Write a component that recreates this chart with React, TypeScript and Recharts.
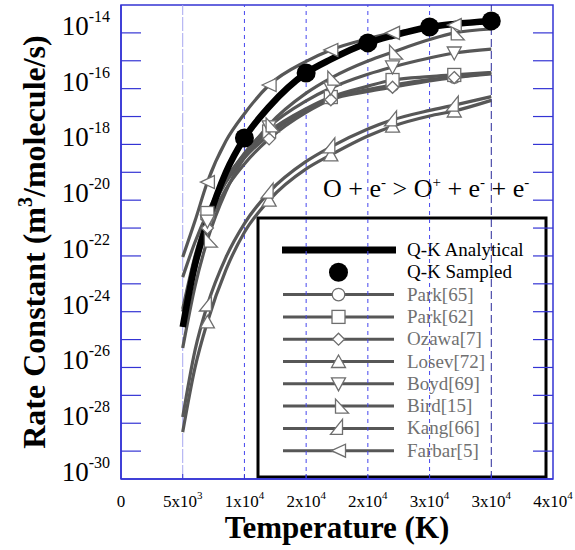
import React from 'react';
import {
  ComposedChart,
  Line,
  Scatter,
  XAxis,
  YAxis,
  ReferenceLine,
  ReferenceArea,
  Customized,
} from 'recharts';

// ---------- data ----------
const TEMPS = [5000, 6000, 7000, 8500, 10000, 12000, 15000, 17000, 20000, 22000, 25000, 27000, 30000];

const QK_ANALYTICAL = [2.82e-25, 5.0e-23, 1.58e-21, 1.0e-19, 1.7e-18, 2.24e-17, 3.63e-16, 1.12e-15, 4.37e-15, 7.9e-15, 1.62e-14, 2.09e-14, 2.69e-14];
const PARK65 = [1.26e-24, 1.0e-22, 2.5e-21, 4.4e-20, 3.3e-19, 2.2e-18, 1.74e-17, 4.6e-17, 9.3e-17, 1.35e-16, 2.1e-16, 2.6e-16, 3.6e-16];
const PARK62 = [1.74e-23, 3.16e-22, 3.47e-21, 6.0e-20, 4.37e-19, 2.9e-18, 1.9e-17, 5.0e-17, 1.23e-16, 2.04e-16, 2.7e-16, 3.1e-16, 3.8e-16];
const OZAWA7 = [4.0e-25, 3.16e-23, 1.0e-21, 2.5e-20, 2.0e-19, 1.58e-18, 1.41e-17, 4.0e-17, 7.9e-17, 1.12e-16, 1.9e-16, 2.5e-16, 3.4e-16];
const LOSEV72 = [4.8e-29, 1.0e-26, 4.3e-25, 3.16e-23, 7.1e-22, 1.0e-20, 1.32e-19, 4.2e-19, 2.0e-18, 4.5e-18, 1.05e-17, 1.58e-17, 3.8e-17];
const BOYD69 = [1.0e-24, 7.9e-23, 1.78e-21, 4.8e-20, 4.8e-19, 4.27e-18, 3.63e-17, 1.05e-16, 3.3e-16, 6.0e-16, 1.26e-15, 1.9e-15, 2.63e-15];
const BIRD15 = [5.0e-26, 8.3e-24, 3.72e-22, 2.09e-20, 3.47e-19, 5.0e-18, 6.9e-17, 2.4e-16, 9.8e-16, 2.04e-15, 5.75e-15, 1.0e-14, 1.38e-14];
const KANG66 = [1.66e-28, 4.2e-26, 1.74e-24, 8.9e-23, 1.45e-21, 1.95e-20, 2.45e-19, 8.1e-19, 3.55e-18, 7.6e-18, 1.66e-17, 2.57e-17, 5.2e-17];
const FARBAR5 = [9.1e-23, 1.82e-21, 4.47e-20, 1.32e-18, 1.26e-17, 1.35e-16, 9.55e-16, 2.45e-15, 6.17e-15, 1.0e-14, 1.51e-14, 1.91e-14, 2.4e-14];

const QK_SAMPLED_T = [10000, 15000, 20000, 25000, 30000];
const QK_SAMPLED = [1.7e-18, 3.63e-16, 4.37e-15, 1.62e-14, 2.69e-14];

const MARKER_T = [7000, 12000, 17000, 22000, 27000];

const X_TICKS = [0, 5000, 10000, 15000, 20000, 25000, 30000, 35000];
const X_TICK_BASE = ['0', '5x10', '1x10', '2x10', '2x10', '3x10', '3x10', '4x10'];
const X_TICK_EXP = ['', '3', '4', '4', '4', '4', '4', '4'];
const GRID_T = [5000, 10000, 15000, 20000, 25000, 30000];

const Y_TICK_EXPS = [-30, -29, -28, -27, -26, -25, -24, -23, -22, -21, -20, -19, -18, -17, -16, -15, -14, -13];
const Y_TICKS = Y_TICK_EXPS.map((e) => Number(`1e${e}`));

const SERIES_KEYS = ['park65', 'park62', 'ozawa7', 'losev72', 'boyd69', 'bird15', 'kang66', 'farbar5'];
const SERIES_NAMES = ['Park[65]', 'Park[62]', 'Ozawa[7]', 'Losev[72]', 'Boyd[69]', 'Bird[15]', 'Kang[66]', 'Farbar[5]'];
const SERIES_MARKERS = ['circle', 'square', 'diamond', 'up', 'down', 'bird', 'kang', 'left'];
const SERIES_VALUES = [PARK65, PARK62, OZAWA7, LOSEV72, BOYD69, BIRD15, KANG66, FARBAR5];

const TABLE = TEMPS.map((T, i) => {
  const row: Record<string, number> = { T, qk: QK_ANALYTICAL[i] };
  SERIES_KEYS.forEach((k, j) => {
    row[k] = SERIES_VALUES[j][i];
  });
  return row;
});
const SAMPLED = QK_SAMPLED_T.map((T, i) => ({ T, v: QK_SAMPLED[i] }));

// ---------- styles ----------
const W = 575;
const H = 550;
const MARGIN = { top: 5, right: 22, bottom: 0, left: 0 };
const Y_AXIS_W = 121;
const X_AXIS_H = 71;
const PW = W - MARGIN.left - MARGIN.right - Y_AXIS_W;
const FONT = "'Liberation Serif', 'Times New Roman', Times, serif";
const FRAME = '#3434d4';
const LINE_GRAY = '#575757';
const MARK_GRAY = '#6e6e6e';
const TEXT_GRAY = '#707070';

function marker(kind: string, cx: number, cy: number) {
  const common = { fill: '#fff', stroke: MARK_GRAY, strokeWidth: 1.3 };
  const poly = (pts: number[][]) => (
    <polygon points={pts.map(([dx, dy]) => `${cx + dx},${cy + dy}`).join(' ')} {...common} />
  );
  switch (kind) {
    case 'circle':
      return <circle cx={cx} cy={cy} r={6.3} {...common} />;
    case 'square':
      return <rect x={cx - 6.5} y={cy - 6.5} width={13} height={13} {...common} />;
    case 'diamond':
      return poly([[0, -6], [6, 0], [0, 6], [-6, 0]]);
    case 'up':
      return poly([[0, -6.5], [-7, 6], [7, 6]]);
    case 'down':
      return poly([[-7, -6], [7, -6], [0, 7]]);
    case 'bird':
      return poly([[-3, -7], [-3, 7], [10, 7]]);
    case 'kang':
      return poly([[4, -9], [4, 6], [-8, 6]]);
    case 'left':
    default:
      return poly([[-7, 0], [7, -6.5], [7, 6.5]]);
  }
}

const makeDot = (kind: string) => (props: any) => {
  const { cx, cy, payload, index } = props;
  if (cx == null || cy == null || !payload || !MARKER_T.includes(payload.T)) {
    return <g key={`d-${kind}-${index}`} />;
  }
  return <g key={`d-${kind}-${index}`}>{marker(kind, cx, cy)}</g>;
};

const YTick = (props: any) => {
  const { x, y, payload } = props;
  const exp = Math.round(Math.log10(payload.value));
  const showLine = exp > -30 && exp < -13;
  const showLabel = exp % 2 === 0 && exp <= -14;
  return (
    <g>
      {showLine && (
        <>
          <line x1={x} x2={x + 20} y1={y} y2={y} stroke={FRAME} strokeWidth={1.2} />
          <line x1={x + PW - 20} x2={x + PW} y1={y} y2={y} stroke={FRAME} strokeWidth={1.2} />
        </>
      )}
      {showLabel && (
        <text x={x - 11} y={y + 2} textAnchor="end" fontFamily={FONT} fontSize={27} fill="#000">
          10
          <tspan dy={-13} fontSize={16}>{`-${Math.abs(exp)}`}</tspan>
        </text>
      )}
    </g>
  );
};

const XTick = (props: any) => {
  const { x, y, payload } = props;
  const i = X_TICKS.indexOf(payload.value);
  return (
    <g>
      {i > 0 && i < X_TICKS.length - 1 && (
        <line x1={x} x2={x} y1={y} y2={y - 5} stroke={FRAME} strokeWidth={1} />
      )}
      <text x={x} y={y + 28} textAnchor="middle" fontFamily={FONT} fontSize={17} fill="#000">
        {X_TICK_BASE[i]}
        {X_TICK_EXP[i] ? (
          <tspan dy={-8} fontSize={11}>
            {X_TICK_EXP[i]}
          </tspan>
        ) : null}
      </text>
    </g>
  );
};

const Overlay = () => {
  const rowY = (i: number) => 250 + i * 22.3;
  return (
    <g>
      {/* reaction label */}
      <text x={323} y={197} fontFamily={FONT} fontSize={26} fill="#000">
        O + e<tspan dy={-10} fontSize={15}>-</tspan>
        <tspan dy={10}>{' > O'}</tspan>
        <tspan dy={-10} fontSize={15}>+</tspan>
        <tspan dy={10}>{' + e'}</tspan>
        <tspan dy={-10} fontSize={15}>-</tspan>
        <tspan dy={10}>{' + e'}</tspan>
        <tspan dy={-10} fontSize={15}>-</tspan>
      </text>
      {/* legend */}
      <rect x={258} y={218} width={288} height={259} fill="#fff" stroke="#000" strokeWidth={3} />
      <line x1={282} x2={396} y1={rowY(0)} y2={rowY(0)} stroke="#000" strokeWidth={7} />
      <text x={407} y={rowY(0) + 6} fontFamily={FONT} fontSize={19} fill="#000">
        Q-K Analytical
      </text>
      <circle cx={338.5} cy={rowY(1)} r={9.5} fill="#000" />
      <text x={407} y={rowY(1) + 6} fontFamily={FONT} fontSize={19} fill="#000">
        Q-K Sampled
      </text>
      {SERIES_NAMES.map((name, j) => {
        const yy = rowY(j + 2);
        return (
          <g key={name}>
            <line x1={283} x2={394} y1={yy} y2={yy} stroke={LINE_GRAY} strokeWidth={3} />
            {marker(SERIES_MARKERS[j], 338.5, yy)}
            <text x={407} y={yy + 6} fontFamily={FONT} fontSize={19} fill={TEXT_GRAY}>
              {name}
            </text>
          </g>
        );
      })}
    </g>
  );
};

export default function App() {
  return (
    <div style={{ position: 'absolute', left: 0, top: 0, width: W, height: H, background: '#fff' }}>
      <ComposedChart width={W} height={H} data={TABLE} margin={MARGIN}>
        <XAxis
          dataKey="T"
          type="number"
          domain={[0, 35000]}
          ticks={X_TICKS}
          interval={0}
          height={X_AXIS_H}
          tickSize={0}
          tickMargin={0}
          tickLine={false}
          axisLine={{ stroke: FRAME, strokeWidth: 1.5 }}
          tick={<XTick />}
          allowDataOverflow
          label={(p: any) => {
            const vb = p.viewBox || { x: 121, y: 479, width: 432 };
            return (
              <text
                x={vb.x + vb.width / 2}
                y={vb.y + 59}
                textAnchor="middle"
                fontFamily={FONT}
                fontSize={31}
                fontWeight="bold"
                fill="#000"
              >
                Temperature (K)
              </text>
            );
          }}
        />
        <YAxis
          type="number"
          scale="log"
          domain={[1e-30, 1e-13]}
          ticks={Y_TICKS}
          interval={0}
          width={Y_AXIS_W}
          tickSize={0}
          tickMargin={0}
          tickLine={false}
          axisLine={{ stroke: FRAME, strokeWidth: 1.5 }}
          tick={<YTick />}
          allowDataOverflow
          label={(p: any) => {
            const vb = p.viewBox || { x: 0, y: 5, width: 121, height: 474 };
            const cy = vb.y + vb.height / 2;
            return (
              <text
                transform={`rotate(-90, 45, ${cy})`}
                x={45}
                y={cy}
                textAnchor="middle"
                fontFamily={FONT}
                fontSize={32}
                fontWeight="bold"
                fill="#000"
              >
                Rate Constant (m
                <tspan dy={-13} fontSize={20}>3</tspan>
                <tspan dy={13}>/molecule/s)</tspan>
              </text>
            );
          }}
        />
        <ReferenceArea
          x1={0}
          x2={35000}
          y1={1e-30}
          y2={1e-13}
          fill="none"
          stroke={FRAME}
          strokeWidth={1.5}
          ifOverflow="visible"
        />
        {GRID_T.map((t, i) => (
          <ReferenceLine
            key={`g${t}`}
            x={t}
            stroke={i === 0 ? '#a8a8f0' : i === GRID_T.length - 1 ? '#2a2a9a' : '#4646ee'}
            strokeDasharray={i === 0 ? '14 2' : i === GRID_T.length - 1 ? '8 4' : '4 4'}
            strokeWidth={1}
          />
        ))}
        <Customized component={Overlay} />
        {SERIES_KEYS.map((k, j) => (
          <Line
            key={k}
            dataKey={k}
            name={SERIES_NAMES[j]}
            type="monotone"
            stroke={LINE_GRAY}
            strokeWidth={3.2}
            dot={makeDot(SERIES_MARKERS[j])}
            activeDot={false}
            isAnimationActive={false}
          />
        ))}
        <Line
          dataKey="qk"
          name="Q-K Analytical"
          type="monotone"
          stroke="#000"
          strokeWidth={6.5}
          dot={false}
          activeDot={false}
          isAnimationActive={false}
        />
        <Scatter
          data={SAMPLED}
          dataKey="v"
          name="Q-K Sampled"
          fill="#000"
          isAnimationActive={false}
          shape={(p: any) => <circle cx={p.cx} cy={p.cy} r={9.5} fill="#000" />}
        />
      </ComposedChart>
    </div>
  );
}
